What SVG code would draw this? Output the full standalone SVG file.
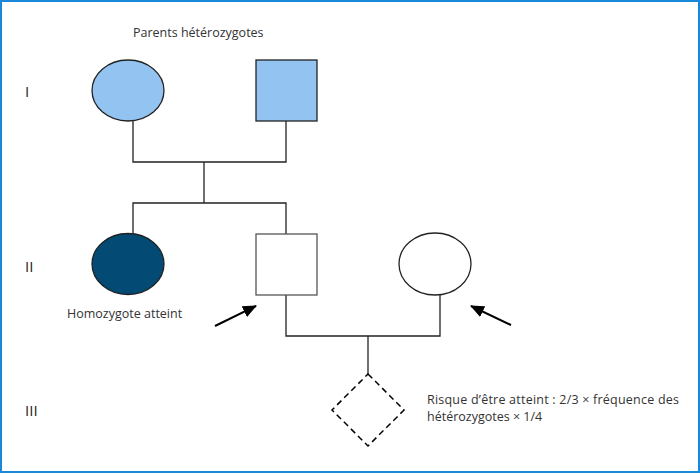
<svg xmlns="http://www.w3.org/2000/svg" width="700" height="473" viewBox="0 0 700 473">
<style>
.t{font-family:"Open Sans","Liberation Sans",sans-serif;font-size:12.5px;fill:#333333}
.gen{font-family:"Open Sans","Liberation Sans",sans-serif;font-size:15px;fill:#222222}
.ln{fill:none;stroke:#222222;stroke-width:1.3}
.sh{stroke:#222222;stroke-width:1.3}
</style>
<defs>
<marker id="ah" markerWidth="14" markerHeight="12" refX="13" refY="6" orient="auto" markerUnits="userSpaceOnUse" viewBox="0 0 14 12">
<path d="M0,0 L14,6 L0,12 Z" fill="#000"/>
</marker>
</defs>
<rect x="1" y="1" width="698" height="471" fill="#ffffff" stroke="#1a88d8" stroke-width="2"/>
<text class="t" x="133" y="37">Parents hétérozygotes</text>
<g id="generations">
<text class="gen" x="25" y="97">I</text>
<text class="gen" x="25" y="272">II</text>
<text class="gen" x="25" y="416">III</text>
</g>
<g id="connectors">
<path class="ln" d="M133,121 V162 H286 V121"/>
<path class="ln" d="M204,162 V203"/>
<path class="ln" d="M133,234 V203 H286 V234"/>
<path class="ln" d="M286,295 V336 H440 V295"/>
<path class="ln" d="M368,336 V374"/>
<line x1="215" y1="326" x2="256" y2="306" stroke="#000" stroke-width="2" marker-end="url(#ah)"/>
<line x1="511" y1="325" x2="471" y2="306" stroke="#000" stroke-width="2" marker-end="url(#ah)"/>
</g>
<g id="mother1"><ellipse class="sh" cx="128" cy="90.5" rx="36" ry="30.5" fill="#93c4f1"/></g>
<g id="father1"><rect class="sh" x="256" y="60" width="61" height="61" fill="#93c4f1"/></g>
<g id="daughter2"><ellipse class="sh" cx="128" cy="264" rx="36" ry="30.5" fill="#034a74"/>
<text class="t" x="67" y="318">Homozygote atteint</text></g>
<g id="son2"><rect x="256" y="234" width="61" height="61" fill="#ffffff" stroke="#555555" stroke-width="1.3"/></g>
<g id="spouse2"><ellipse class="sh" cx="435" cy="264" rx="36" ry="31" fill="#ffffff"/></g>
<g id="child3"><path d="M368,374 L404,410 L368,446 L332,410 Z" fill="none" stroke="#000" stroke-width="1.5" stroke-dasharray="6,4"/>
<text class="t" x="427" y="404" textLength="252" lengthAdjust="spacing">Risque d’être atteint : 2/3 × fréquence des</text>
<text class="t" x="427" y="421">hétérozygotes × 1/4</text></g>
</svg>
